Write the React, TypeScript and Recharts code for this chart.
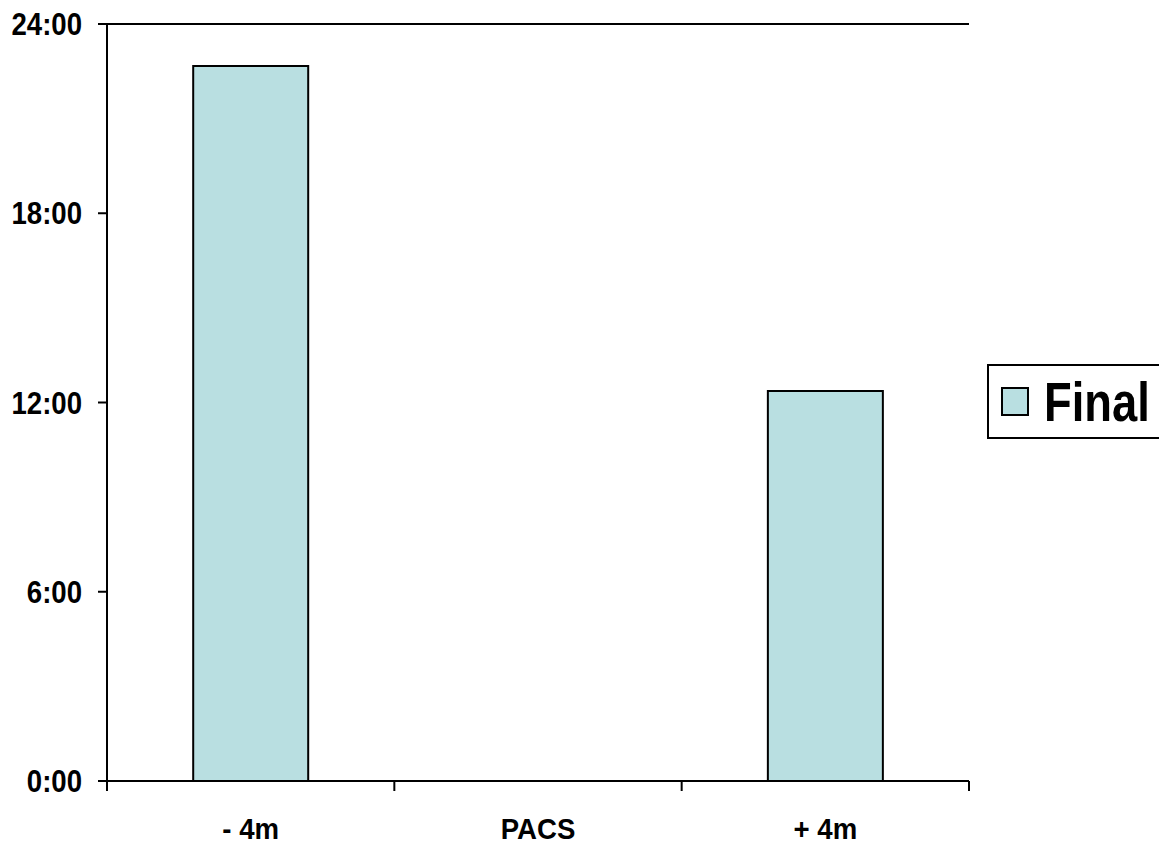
import React from 'react';
import { BarChart, Bar, XAxis, YAxis, CartesianGrid, Legend } from 'recharts';

const categories = ['- 4m', 'PACS', '+ 4m'];
const finalMinutes: (number | null)[] = [1360, null, 742];
const yTicks = [0, 360, 720, 1080, 1440];
const seriesName = 'Final';

const FILL = '#B9DFE1';
const FONT = "'Liberation Sans', Arial, sans-serif";

const data = categories.map((c, i) => ({ name: c, Final: finalMinutes[i] }));

const fmtTime = (m: number) => `${Math.floor(m / 60)}:${String(m % 60).padStart(2, '0')}`;

const XTick = (props: any) => {
  const { x, y, payload, index, visibleTicksCount } = props;
  const off = payload.offset || 0;
  const last = index === (visibleTicksCount ?? categories.length) - 1;
  return (
    <g>
      <line x1={x - off} x2={x - off} y1={y} y2={y + 10} stroke="#000" strokeWidth={2} />
      {last && <line x1={x + off} x2={x + off} y1={y} y2={y + 10} stroke="#000" strokeWidth={2} />}
      <g transform={`translate(${x},${y + 58}) scale(0.92,1)`}>
        <text x={0} y={0} textAnchor="middle" fontFamily={FONT} fontWeight="bold" fontSize={30} fill="#000">
          {payload.value}
        </text>
      </g>
    </g>
  );
};

const YTick = (props: any) => {
  const { x, y, payload } = props;
  return (
    <g transform={`translate(${x},${y}) scale(0.89,1)`}>
      <text x={0} y={0} dy={11} textAnchor="end" fontFamily={FONT} fontWeight="bold" fontSize={31} fill="#000">
        {fmtTime(payload.value)}
      </text>
    </g>
  );
};

const LegendContent = () => (
  <div style={{ paddingLeft: 18, overflow: 'hidden', width: 172 }}>
    <div
      style={{
        boxSizing: 'border-box',
        width: 200,
        height: 75,
        border: '2px solid #000',
        display: 'flex',
        alignItems: 'center',
        background: '#fff',
      }}
    >
      <div style={{ marginLeft: 12, width: 28, height: 29, flex: 'none', boxSizing: 'border-box', border: '2px solid #000', background: FILL }} />
      <span
        style={{
          marginLeft: 15,
          fontFamily: FONT,
          fontWeight: 'bold',
          fontSize: 56,
          lineHeight: 1,
          color: '#000',
          display: 'inline-block',
          transform: 'scaleX(0.81)',
          transformOrigin: 'left center',
          whiteSpace: 'nowrap',
        }}
      >
        {seriesName}
      </span>
    </div>
  </div>
);

export default function App() {
  return (
    <div style={{ position: 'absolute', left: 0, top: 0, width: 1159, height: 844, background: '#fff' }}>
      <BarChart
        width={1159}
        height={844}
        data={data}
        margin={{ top: 24, right: 0, left: 0, bottom: 0 }}
        barCategoryGap="30%"
      >
        <CartesianGrid vertical={false} stroke="#000" strokeWidth={2} />
        <XAxis
          dataKey="name"
          height={63}
          tickLine={false}
          tickSize={0}
          tickMargin={0}
          axisLine={{ stroke: '#000', strokeWidth: 2 }}
          tick={<XTick />}
          interval={0}
        />
        <YAxis
          yAxisId="left"
          width={107}
          domain={[0, 1440]}
          ticks={yTicks}
          tickSize={9}
          tickMargin={16}
          tickLine={{ stroke: '#000', strokeWidth: 2 }}
          axisLine={{ stroke: '#000', strokeWidth: 2 }}
          tick={<YTick />}
        />
        <YAxis
          yAxisId="right"
          orientation="right"
          width={0}
          domain={[0, 1440]}
          tick={false}
          tickLine={false}
          axisLine={{ stroke: '#000', strokeWidth: 2 }}
        />
        <Legend
          layout="vertical"
          align="right"
          verticalAlign="middle"
          wrapperStyle={{ top: 364, width: 190 }}
          content={<LegendContent />}
        />
        <Bar
          yAxisId="left"
          dataKey="Final"
          name={seriesName}
          fill={FILL}
          stroke="#000"
          strokeWidth={2}
          isAnimationActive={false}
        />
      </BarChart>
    </div>
  );
}
